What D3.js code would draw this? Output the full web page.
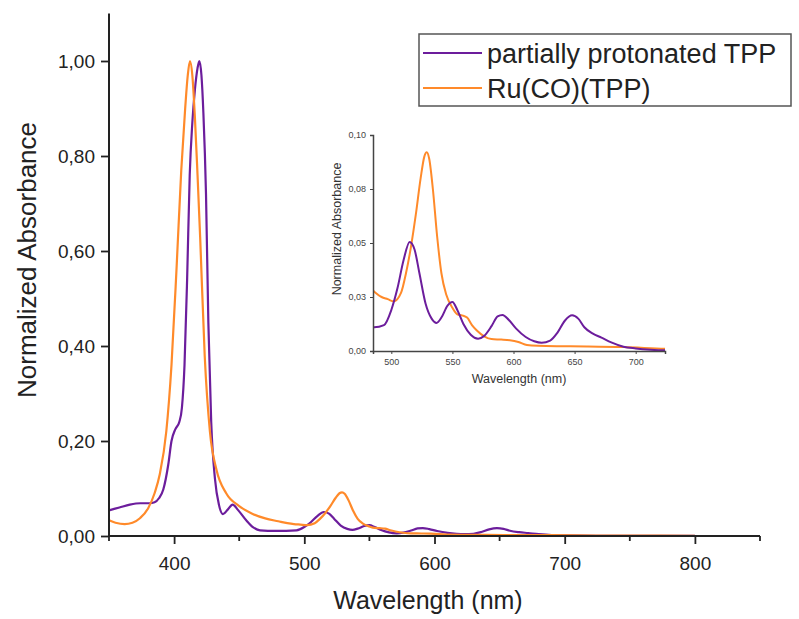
<!DOCTYPE html>
<html>
<head>
	<meta charset="utf-8">
	<title>Normalized Absorbance</title>
	<script src="https://cdn.jsdelivr.net/npm/d3@7"></script>
	<style type="text/css">
		html, body {
			margin: 0;
			padding: 0;
			background: #fff;
		}
		text {
			font-family: "Liberation Sans", Arial, sans-serif;
		}
	</style>
</head>
<body>
	<div id="graph"></div>
	<script type="text/javascript">
		// series names
		var seriesNames = ['partially protonated TPP', 'Ru(CO)(TPP)'];

		// partially protonated TPP (wavelength nm, normalized absorbance)
		var tppNm = [350, 358, 366, 374, 381, 385, 388.5, 391.7, 395.5, 398, 401, 404, 406, 408, 410, 412, 414, 416, 418, 419.4,
			421, 422.5, 424.5, 426.3, 428.5, 431.4, 434.5, 437.5, 441, 445, 449, 455.7, 460.8, 466, 472, 480, 486, 494,
			500, 505, 510, 515, 519, 523, 528, 533, 537, 541, 546, 550, 554, 559, 565, 571, 576, 582, 587, 591, 596, 602,
			610, 617, 623, 630, 636, 642, 648, 653, 658, 665, 672, 680, 690, 700, 712, 724, 760, 800];
		var tppAbs = [0.054, 0.060, 0.066, 0.069, 0.069, 0.071, 0.080, 0.098, 0.150, 0.200, 0.225, 0.240, 0.270, 0.360, 0.540, 0.760, 0.870, 0.940, 0.985, 1.000,
			0.970, 0.890, 0.720, 0.450, 0.240, 0.120, 0.065, 0.046, 0.055, 0.066, 0.055, 0.032, 0.018, 0.012, 0.011, 0.011, 0.011, 0.012,
			0.019, 0.029, 0.042, 0.0505, 0.047, 0.036, 0.022, 0.015, 0.013, 0.0155, 0.021, 0.0227, 0.019, 0.0125, 0.0075, 0.0057, 0.0070, 0.0115, 0.0160, 0.0167, 0.0145, 0.0105,
			0.0065, 0.0045, 0.0038, 0.0048, 0.0085, 0.0140, 0.0165, 0.0150, 0.0110, 0.0080, 0.0062, 0.0040, 0.0020, 0.0012, 0.0006, 0.0003, 0.0002, 0.0001];

		// Ru(CO)(TPP)
		var ruNm = [350, 355, 362, 368, 374, 380, 385, 389, 394, 398, 402, 405.5, 408.5, 410.5, 412.2, 414, 416, 418, 420, 423.5,
			427.5, 432.5, 440, 450, 460, 470, 480, 487, 492, 497, 502, 508, 512, 516, 520, 524, 527, 529, 531, 534, 537.5,
			541, 545, 550, 554, 558, 562, 566, 570, 576, 582, 590, 597, 604, 611, 620, 640, 660, 690, 724, 760, 800];
		var ruAbs = [0.033, 0.028, 0.025, 0.028, 0.038, 0.058, 0.090, 0.130, 0.220, 0.360, 0.570, 0.770, 0.900, 0.970, 1.000, 0.970, 0.880, 0.760, 0.630, 0.380,
			0.220, 0.140, 0.090, 0.063, 0.047, 0.037, 0.031, 0.027, 0.025, 0.024, 0.023, 0.027, 0.036, 0.048, 0.063, 0.080, 0.090, 0.092, 0.089, 0.075, 0.053,
			0.036, 0.026, 0.020, 0.017, 0.0165, 0.0155, 0.012, 0.0095, 0.0068, 0.0055, 0.0053, 0.0050, 0.0042, 0.0028, 0.0024, 0.0022, 0.0021, 0.0018, 0.0010, 0.0007, 0.0005];

		// main axis ticks
		var xMajor = [400, 500, 600, 700, 800];
		var xMinor = [350, 450, 550, 650, 750, 850];
		var yTicks = [0, 0.2, 0.4, 0.6, 0.8, 1.0];
		var yLabels = ['0,00', '0,20', '0,40', '0,60', '0,80', '1,00'];

		// inset axis ticks
		var insetXTicks = [500, 550, 600, 650, 700];
		var insetYTicks = [0, 0.025, 0.05, 0.075, 0.1];
		var insetYLabels = ['0,00', '0,03', '0,05', '0,08', '0,10'];

		var colors = ['#6c1d9c', '#ff8a2a'];

		var W = 799, H = 619;
		var series = [
			{name: seriesNames[0], color: colors[0], pts: tppNm.map(function(d, i) { return [d, tppAbs[i]]; })},
			{name: seriesNames[1], color: colors[1], pts: ruNm.map(function(d, i) { return [d, ruAbs[i]]; })}
		];

		var svg = d3.select('#graph').append('svg')
			.attr('width', W).attr('height', H);

		// ---- main plot ----
		var x = d3.scaleLinear().domain([350, 850]).range([109, 760]);
		var y = d3.scaleLinear().domain([0, 1.1]).range([536, 13.5]);

		var line = d3.line()
			.x(function(d) { return x(d[0]); })
			.y(function(d) { return y(d[1]); })
			.curve(d3.curveMonotoneX);

		var main = svg.append('g');
		main.selectAll('path.s')
			.data(series)
			.enter().append('path')
				.attr('class', 's')
				.attr('d', function(d) { return line(d.pts); })
				.attr('fill', 'none')
				.attr('stroke', function(d) { return d.color; })
				.attr('stroke-width', 2.2)
				.attr('stroke-linejoin', 'round');

		// x axis
		var xAxis = main.append('g').attr('transform', 'translate(0,' + y(0) + ')')
			.call(d3.axisBottom(x).tickValues(xMajor).tickSize(8).tickPadding(13).tickFormat(d3.format('d')));
		xAxis.append('g').selectAll('line')
			.data(xMinor)
			.enter().append('line')
				.attr('x1', function(d) { return x(d); }).attr('x2', function(d) { return x(d); })
				.attr('y1', 0).attr('y2', 5)
				.attr('stroke', '#222');

		// y axis
		var yAxis = main.append('g').attr('transform', 'translate(' + x(350) + ',0)')
			.call(d3.axisLeft(y).tickValues(yTicks).tickSize(8).tickPadding(6)
				.tickFormat(function(d, i) { return yLabels[i]; }));

		[xAxis, yAxis].forEach(function(a) {
			a.select('.domain').remove();
			a.selectAll('line').attr('stroke', '#222').attr('stroke-width', 1.8);
			a.selectAll('.tick text').attr('font-size', 19).attr('fill', '#222')
				.attr('font-family', '"Liberation Sans", Arial, sans-serif');
		});
		main.append('line')
			.attr('x1', x(350)).attr('x2', x(850)).attr('y1', y(0)).attr('y2', y(0))
			.attr('stroke', '#222').attr('stroke-width', 2);
		main.append('line')
			.attr('x1', x(350)).attr('x2', x(350)).attr('y1', y(0) + 1).attr('y2', y(1.1))
			.attr('stroke', '#222').attr('stroke-width', 2);

		main.append('text')
			.attr('x', 428).attr('y', 609)
			.attr('text-anchor', 'middle')
			.attr('font-size', 25).attr('fill', '#222')
			.text('Wavelength (nm)');
		main.append('text')
			.attr('transform', 'translate(36,260) rotate(-90)')
			.attr('text-anchor', 'middle')
			.attr('font-size', 26).attr('fill', '#222')
			.text('Normalized Absorbance');

		// legend
		var lg = svg.append('g');
		lg.append('rect')
			.attr('x', 419).attr('y', 34).attr('width', 372).attr('height', 72)
			.attr('fill', '#fff').attr('stroke', '#555').attr('stroke-width', 1.5);
		var rows = lg.selectAll('g.row')
			.data(series)
			.enter().append('g').attr('class', 'row')
			.attr('transform', function(d, i) { return 'translate(0,' + (53 + i * 35) + ')'; });
		rows.append('line')
			.attr('x1', 423).attr('x2', 482).attr('y1', 0).attr('y2', 0)
			.attr('stroke', function(d) { return d.color; })
			.attr('stroke-width', 2.2);
		rows.append('text')
			.attr('x', 487).attr('y', 9.5)
			.attr('font-size', 27).attr('fill', '#222')
			.text(function(d) { return d.name; });

		// ---- inset ----
		var ix = d3.scaleLinear().domain([485, 724]).range([373, 665]);
		var iy = d3.scaleLinear().domain([0, 0.1]).range([351, 135]);
		var iline = d3.line()
			.x(function(d) { return ix(d[0]); })
			.y(function(d) { return iy(d[1]); })
			.curve(d3.curveMonotoneX);

		var inset = svg.append('g');
		svg.append('clipPath').attr('id', 'iclip')
			.append('rect').attr('x', 373).attr('y', 120).attr('width', 292).attr('height', 232);
		inset.append('g').attr('clip-path', 'url(#iclip)')
			.selectAll('path')
			.data(series.slice().reverse())
			.enter().append('path')
				.attr('d', function(d) { return iline(d.pts); })
				.attr('fill', 'none')
				.attr('stroke', function(d) { return d.color; })
				.attr('stroke-width', 2)
				.attr('stroke-linejoin', 'round');

		var ixAxis = inset.append('g').attr('transform', 'translate(0,' + iy(0) + ')')
			.call(d3.axisBottom(ix).tickValues(insetXTicks).tickSize(3).tickPadding(5).tickFormat(d3.format('d')));
		var iyAxis = inset.append('g').attr('transform', 'translate(' + ix(485) + ',0)')
			.call(d3.axisLeft(iy).tickValues(insetYTicks).tickSize(3).tickPadding(4)
				.tickFormat(function(d, i) { return insetYLabels[i]; }));
		[ixAxis, iyAxis].forEach(function(a) {
			a.select('.domain').attr('stroke', '#444').attr('stroke-width', 1.5);
			a.selectAll('.tick line').attr('stroke', '#444');
			a.selectAll('.tick text').attr('font-size', 9).attr('fill', '#444')
				.attr('font-family', '"Liberation Sans", Arial, sans-serif');
		});
		inset.append('text')
			.attr('x', 519).attr('y', 383)
			.attr('text-anchor', 'middle')
			.attr('font-size', 12.5).attr('fill', '#333')
			.text('Wavelength (nm)');
		inset.append('text')
			.attr('transform', 'translate(341,229) rotate(-90)')
			.attr('text-anchor', 'middle')
			.attr('font-size', 12.5).attr('fill', '#333')
			.text('Normalized Absorbance');
	</script>
</body>
</html>
